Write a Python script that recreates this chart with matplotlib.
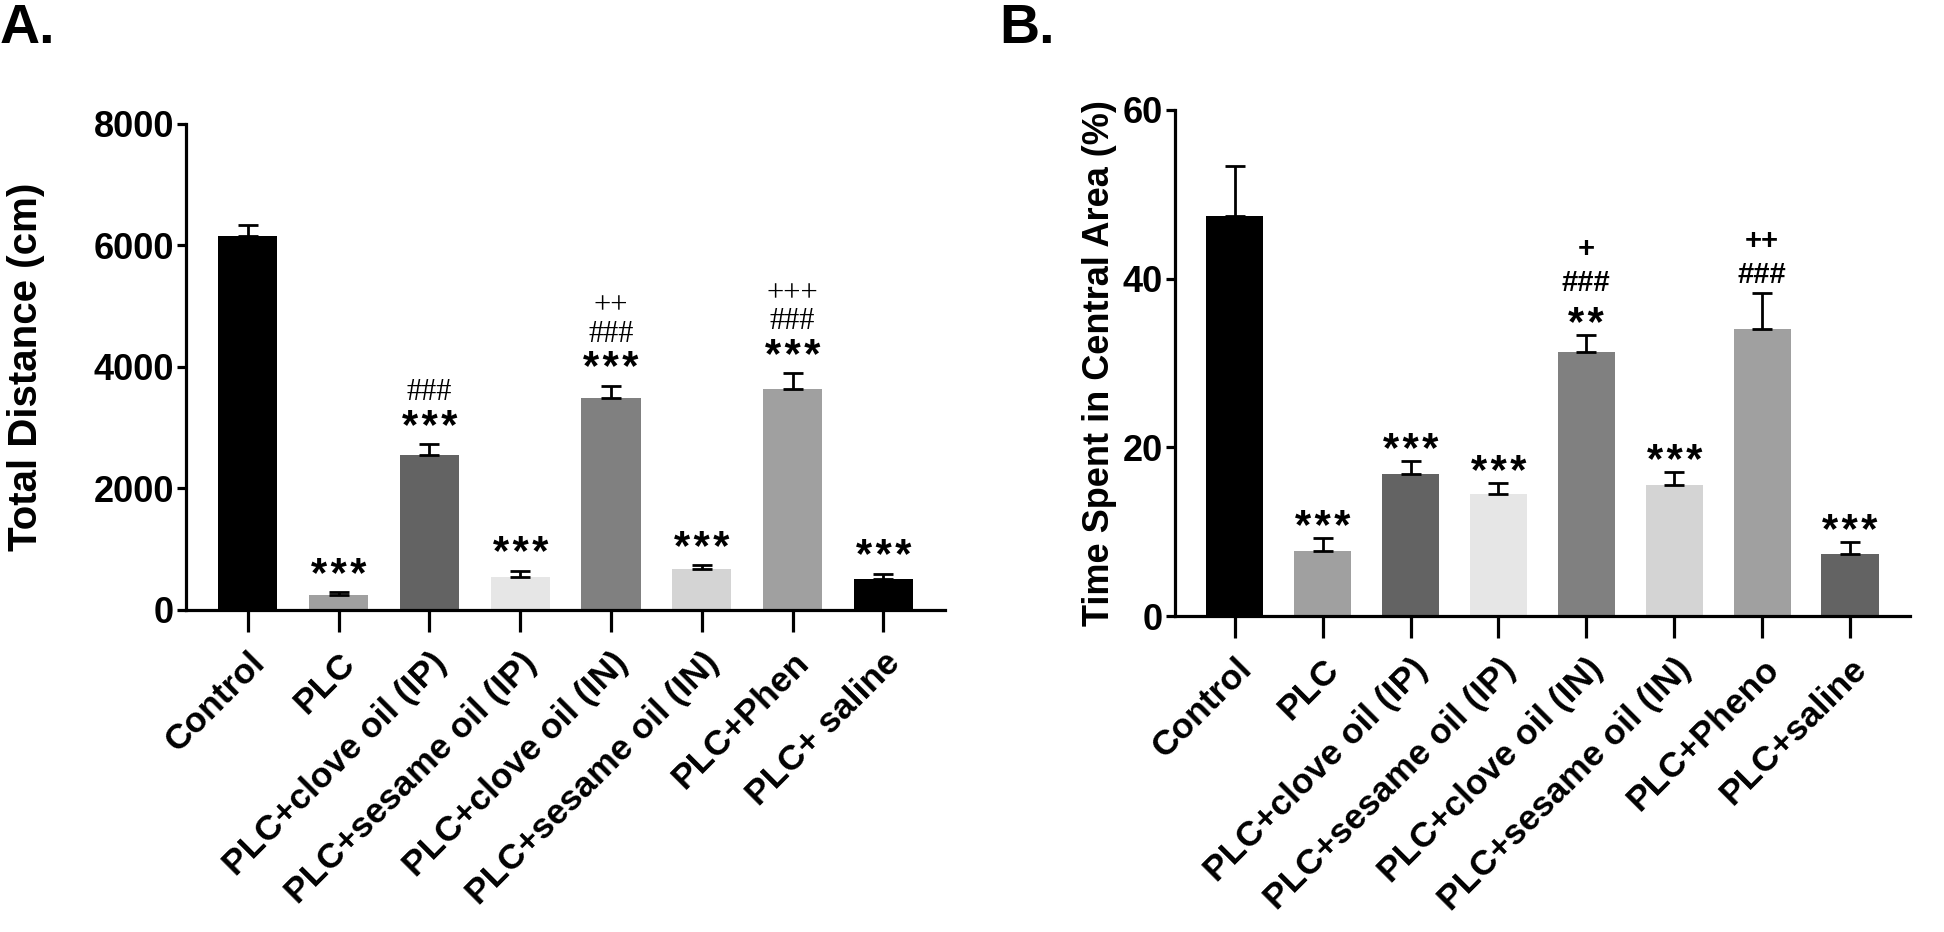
import matplotlib.pyplot as plt
from matplotlib.font_manager import FontProperties
from matplotlib.textpath import TextPath

plt.rcParams['font.family'] = ['Liberation Sans', 'DejaVu Sans']

# Panel A data
labels_a = ["Control", "PLC", "PLC+clove oil (IP)", "PLC+sesame oil (IP)",
            "PLC+clove oil (IN)", "PLC+sesame oil (IN)", "PLC+Phen", "PLC+ saline"]
dist_mean = [6150, 240, 2545, 540, 3485, 670, 3630, 505]
dist_err = [190, 60, 185, 110, 210, 65, 265, 95]
colors_a = ["#000000", "#a0a0a0", "#636363", "#e6e6e6",
            "#808080", "#d4d4d4", "#a0a0a0", "#000000"]
stars_a = ["", "***", "***", "***", "***", "***", "***", "***"]
hash_a = ["", "", "###", "", "###", "", "###", ""]
plus_a = ["", "", "", "", "++", "", "+++", ""]

# Panel B data
labels_b = ["Control", "PLC", "PLC+clove oil (IP)", "PLC+sesame oil (IP)",
            "PLC+clove oil (IN)", "PLC+sesame oil (IN)", "PLC+Pheno", "PLC+saline"]
time_mean = [47.4, 7.7, 16.9, 14.5, 31.3, 15.5, 34.0, 7.3]
time_err = [6.0, 1.5, 1.5, 1.3, 2.0, 1.6, 4.3, 1.5]
colors_b = ["#000000", "#a0a0a0", "#636363", "#e6e6e6",
            "#808080", "#d4d4d4", "#a0a0a0", "#636363"]
stars_b = ["", "***", "***", "***", "**", "***", "", "***"]
hash_b = ["", "", "", "", "###", "", "###", ""]
plus_b = ["", "", "", "", "+", "", "++", ""]

fig = plt.figure(figsize=(19.44, 9.32), dpi=100)
ax_a = fig.add_axes([0.0957, 0.3455, 0.3905, 0.5215])
ax_b = fig.add_axes([0.6044, 0.339, 0.378, 0.543])


def mark(ax, txt, i, top, center_px, size, family, weight, gap=""):
    # put the middle of the glyphs center_px pixels above the error cap
    fams = [family, "DejaVu Sans"]
    prop = FontProperties(family=fams, weight=weight)
    ext = TextPath((0, 0), txt, size=1, prop=prop).get_extents()
    mid_pt = (ext.y0 + ext.y1) / 2 * size
    ax.annotate(gap.join(txt), (i, top), xytext=(0, center_px * 0.72 - mid_pt),
                textcoords="offset points", ha="center", va="baseline",
                fontsize=size, family=fams, fontweight=weight)


def draw_panel(ax, labels, means, errs, colors, ymax, yticks, ylabel, label_x,
               label_size, stars, hashes, pluses, sans_marks, first, step):
    x = range(len(labels))
    ax.bar(x, means, width=0.65, color=colors, zorder=2)
    ax.errorbar(x, means, yerr=[[0] * len(errs), errs], fmt="none",
                ecolor="black", elinewidth=2, capsize=7, capthick=2, zorder=3)
    ax.set_xlim(-0.68, len(labels) - 1 + 0.68)
    ax.set_ylim(0, ymax)
    ax.set_yticks(yticks)
    ax.set_xticks(list(x))
    ax.set_xticklabels(labels, rotation=45, ha="right", rotation_mode="anchor",
                       fontsize=25.5, fontweight="bold")
    for t in ax.get_yticklabels():
        t.set_fontsize(26)
        t.set_fontweight("bold")
    ax.set_ylabel(ylabel, fontsize=label_size, fontweight="bold")
    ax.yaxis.set_label_coords(label_x, 0.5)
    for side in ["top", "right"]:
        ax.spines[side].set_visible(False)
    for side in ["left", "bottom"]:
        ax.spines[side].set_linewidth(2.3)
    ax.tick_params(axis="x", length=16, width=2.3, pad=10)
    ax.tick_params(axis="y", length=6.5, width=2.3, pad=2)

    if sans_marks:
        fam, wt, msize = "Liberation Sans", "bold", 21
    else:
        fam, wt, msize = "Liberation Serif", "normal", 22

    for i in x:
        top = means[i] + errs[i]
        pos = first
        if stars[i]:
            mark(ax, stars[i], i, top, pos, 30, "Liberation Sans", "bold", "\u200a")
            pos += step
        if hashes[i]:
            mark(ax, hashes[i], i, top, pos, msize, fam, wt)
            pos += step
        if pluses[i]:
            mark(ax, pluses[i], i, top, pos, msize, fam, wt)


draw_panel(ax_a, labels_a, dist_mean, dist_err, colors_a, 8000,
           [0, 2000, 4000, 6000, 8000], "Total Distance (cm)", -0.186, 29,
           stars_a, hash_a, plus_a, False, 26, 28)
draw_panel(ax_b, labels_b, time_mean, time_err, colors_b, 60,
           [0, 20, 40, 60], "Time Spent in Central Area (%)", -0.079, 26,
           stars_b, hash_b, plus_b, True, 20, 34)

fig.text(0.0, 0.997, "A.", fontsize=40, fontweight="bold", va="top", ha="left")
fig.text(0.514, 0.997, "B.", fontsize=40, fontweight="bold", va="top", ha="left")

fig.savefig("out.png", dpi=100)
